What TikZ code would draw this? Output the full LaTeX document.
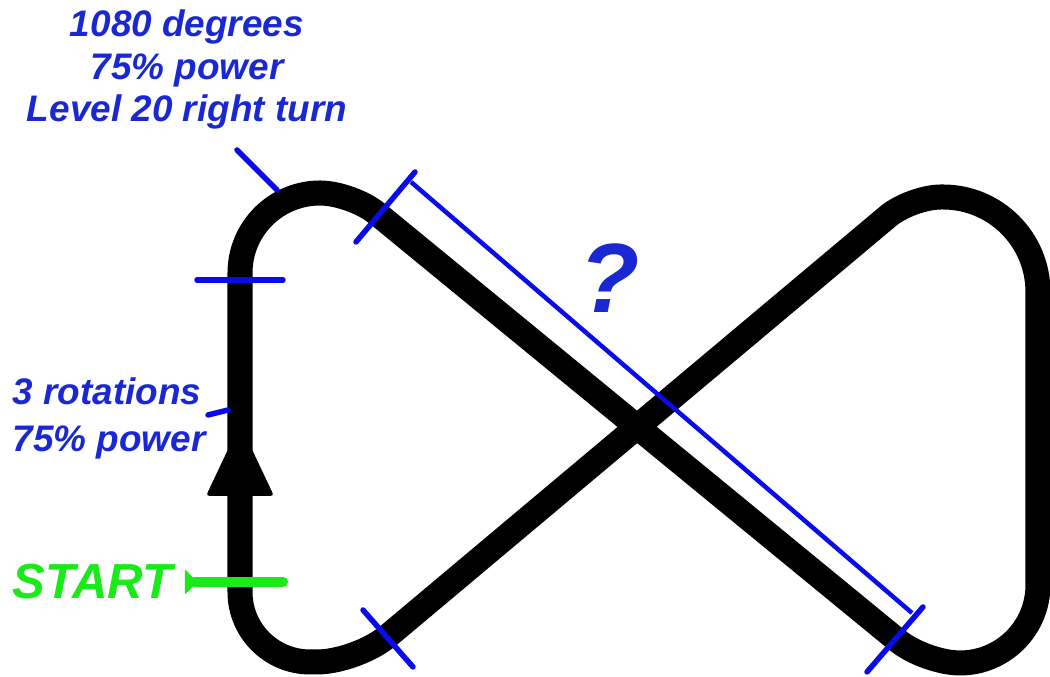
\documentclass[tikz,border=0pt]{standalone}
\usepackage{fontspec}
\newfontfamily\labelfont{Liberation Sans}
\usetikzlibrary{arrows.meta}
\definecolor{noteblue}{RGB}{25,40,210}
\definecolor{tickblue}{RGB}{10,10,235}
\definecolor{startgreen}{RGB}{25,235,25}
\tikzset{
    track/.style={line width=0.25cm,line join=round},
    tick/.style={tickblue,line width=0.055cm,line cap=round},
    note/.style={
        noteblue,inner sep=0pt,
        font=\labelfont\bfseries\itshape\fontsize{10.5}{12}\selectfont
    },
    startlabel/.style={
        startgreen,inner ysep=0pt,inner xsep=0.12cm,
        font=\labelfont\bfseries\itshape\fontsize{14}{16}\selectfont
    },
    startmark/.style={
        startgreen,line width=0.1cm,line cap=round,
        {Triangle[reversed,length=0.13cm,width=0.24cm]}-
    }
}
\begin{document}
\begin{tikzpicture}[x=0.01cm,y=-0.01cm]
\useasboundingbox (0,0) rectangle (1050,677);
% figure eight track
\draw[track] (240,420)
    [rounded corners=0.8cm] -- (240,193)
    [rounded corners=0.32cm] -- (352,193)
    [rounded corners=0.35cm] -- (925,663)
    [rounded corners=0.78cm] -- (1038,663)
    [rounded corners=0.95cm] -- (1038,197)
    [rounded corners=0.3cm] -- (911,197)
    [rounded corners=0.4cm] -- (357,662)
    [rounded corners=0.7cm] -- (240,662)
    [sharp corners] -- cycle;
\fill[rounded corners=1pt] (206,496) -- (274,496) -- (240,424) -- cycle;
% labels
\foreach \i/\txt in {0/1080 degrees,1/75\% power,2/Level 20 right turn}
    \node[note,anchor=base] (turn\i) at (187,37+42.5*\i) {\txt};
\foreach \i/\txt in {0/3 rotations,1/75\% power}
    \node[note,anchor=base west] (drive\i) at (12,405+47*\i) {\txt};
\node[note,font=\labelfont\bfseries\itshape\fontsize{28}{30}\selectfont]
    (ask) at (610,278) {?};
\node[startlabel,anchor=east] (start) at (185,582) {START};
% marks on the track
\coordinate (startend) at (283,582);
\draw[startmark] (start.east) -- (startend);
\coordinate (turnfoot) at (237,150);
\coordinate (turnhead) at (277,190);
\draw[tick] (turnfoot) -- (turnhead);
\coordinate (drivefoot) at (208,415);
\coordinate (drivehead) at (228,410);
\draw[tick] (drivefoot) -- (drivehead);
\draw[tick] (197,280) -- (283,280);
\draw[tick] (356,242) -- (415,172);
\draw[tick] (363,610) -- (413,667);
\draw[tick] (867,672) -- (923,607);
\draw[tickblue,line width=0.045cm] (411,182) -- (912,613);
\end{tikzpicture}
\end{document}
